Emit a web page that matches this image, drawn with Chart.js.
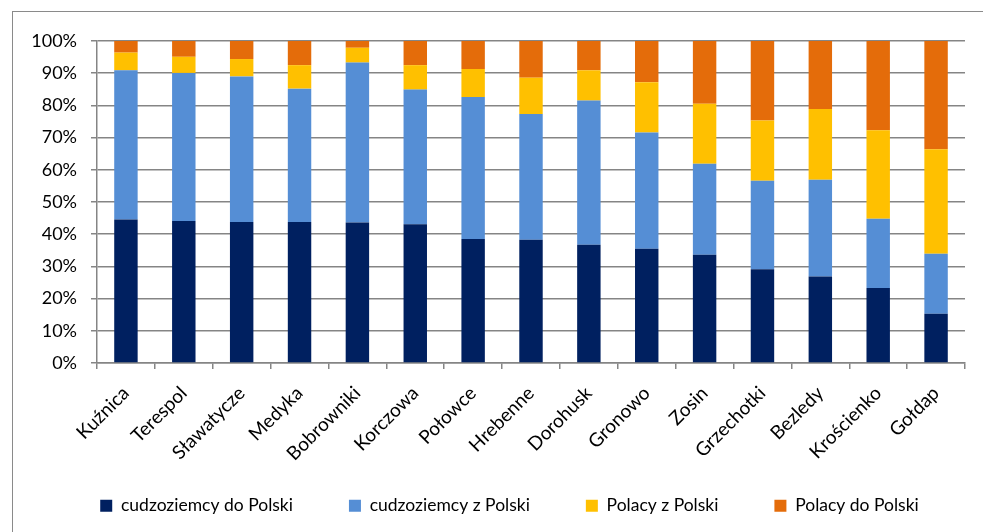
<!DOCTYPE html>
<html>
<head>
<meta charset="utf-8">
<script src="https://cdn.jsdelivr.net/npm/chart.js@4"></script>
<style>
  html, body { margin: 0; padding: 0; background: #fff; overflow: hidden; }
  #frame { position: absolute; left: 12px; top: 11px; width: 1000px; height: 560px; border: 1px solid #8a8a8a; }
  #wrap { position: absolute; left: 0; top: 0; width: 983px; height: 532px; }
</style>
</head>
<body>
<div id="frame"></div>
<div id="wrap"><canvas id="chart"></canvas></div>
<script>
const crossings = ['Kuźnica', 'Terespol', 'Sławatycze', 'Medyka', 'Bobrowniki', 'Korczowa', 'Połowce',
    'Hrebenne', 'Dorohusk', 'Gronowo', 'Zosin', 'Grzechotki', 'Bezledy', 'Krościenko', 'Gołdap'];

// udział procentowy każdej grupy w ruchu na przejściu
const cudzoziemcyDo = [44.6, 44.1, 43.8, 43.8, 43.6, 43.1, 38.5, 38.3, 36.7, 35.5, 33.6, 29.1, 26.9, 23.3, 15.3];
const cudzoziemcyZ  = [46.3, 46.0, 45.2, 41.4, 49.7, 41.8, 44.1, 39.0, 44.8, 36.1, 28.3, 27.5, 30.0, 21.5, 18.6];
const polacyZ       = [5.5, 5.0, 5.4, 7.3, 4.6, 7.6, 8.7, 11.3, 9.4, 15.6, 18.6, 18.7, 22.0, 27.5, 32.5];
const polacyDo      = [3.6, 4.9, 5.6, 7.5, 2.1, 7.5, 8.7, 11.4, 9.1, 12.8, 19.5, 24.7, 21.1, 27.7, 33.6];

const yTicks = [0, 10, 20, 30, 40, 50, 60, 70, 80, 90, 100];

const gridColor = '#858585';
const family = 'Lato, "Liberation Sans", sans-serif';

Chart.defaults.font = { family, size: 18 };
Chart.defaults.color = '#000';

const mk = (label, data, color) => ({
    label, data, backgroundColor: color, borderWidth: 0,
    barPercentage: 0.405, categoryPercentage: 1
});

// legend row sits higher and a little to the right of where the layout puts it
const legendShift = {
    id: 'legendShift',
    beforeDraw(chart) {
        const lg = chart.legend;
        if (!lg) return;
        lg.top = 441;
        lg.left = 27;
        lg.right = chart.width - 18 + 27;
    }
};

new Chart(document.getElementById('chart'), {
    type: 'bar',
    data: {
        labels: crossings,
        datasets: [
            mk('cudzoziemcy do Polski', cudzoziemcyDo, '#002060'),
            mk('cudzoziemcy z Polski', cudzoziemcyZ, '#558ed5'),
            mk('Polacy z Polski', polacyZ, '#ffc000'),
            mk('Polacy do Polski', polacyDo, '#e46c0a')
        ]
    },
    options: {
        responsive: true,
        maintainAspectRatio: false,
        animation: false,
        layout: { padding: { left: 0, right: 18, top: 41, bottom: 0 } },
        plugins: {
            tooltip: { enabled: false },
            legend: {
                position: 'bottom',
                maxHeight: 63,
                labels: { boxWidth: 12, boxHeight: 12, padding: 56, font: { family, size: 17.5 } }
            }
        },
        scales: {
            x: {
                stacked: true,
                grid: { drawOnChartArea: false, drawTicks: true, tickLength: 6, color: gridColor, lineWidth: 1.5 },
                border: { color: gridColor, width: 1.5 },
                ticks: { minRotation: 45, maxRotation: 45, autoSkip: false, padding: 13, font: { family, size: 19 } },
                afterFit: (s) => { s.height = 106; }
            },
            y: {
                stacked: true,
                min: 0, max: 100,
                afterBuildTicks: (s) => { s.ticks = yTicks.map(v => ({ value: v })); },
                grid: { color: gridColor, lineWidth: 1.5, tickLength: 6 },
                border: { color: gridColor, width: 1.5 },
                ticks: { padding: 14, callback: (v) => v + '%' },
                afterFit: (s) => { s.width = 97; }
            }
        }
    },
    plugins: [legendShift]
});
</script>
</body>
</html>
